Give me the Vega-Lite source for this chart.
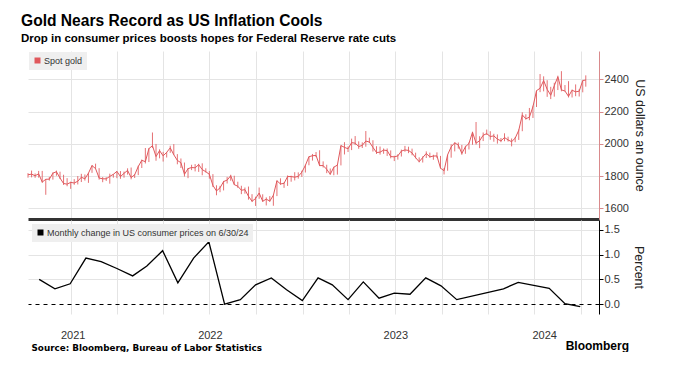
{
  "$schema": "https://vega.github.io/schema/vega-lite/v6.json",
  "padding": {"left": 21, "top": 13, "right": 0, "bottom": 0},
  "title": {
    "text": "Gold Nears Record as US Inflation Cools",
    "subtitle": "Drop in consumer prices boosts hopes for Federal Reserve rate cuts",
    "anchor": "start",
    "dx": -5,
    "font": "Liberation Sans",
    "fontSize": 15.6,
    "fontWeight": "bold",
    "color": "#000000",
    "subtitleFont": "Liberation Sans",
    "subtitleFontSize": 11.5,
    "subtitleFontWeight": "bold",
    "subtitleColor": "#000000",
    "subtitlePadding": 3,
    "offset": 7
  },
  "datasets": {
    "gold": [
      {"d":"2021-07-09","c":1808,"h":1818,"l":1790},
      {"d":"2021-07-16","c":1812,"h":1834,"l":1792},
      {"d":"2021-07-23","c":1802,"h":1816,"l":1789},
      {"d":"2021-07-30","c":1814,"h":1832,"l":1790},
      {"d":"2021-08-06","c":1763,"h":1832,"l":1758},
      {"d":"2021-08-13","c":1780,"h":1782,"l":1684},
      {"d":"2021-08-20","c":1781,"h":1795,"l":1772},
      {"d":"2021-08-27","c":1818,"h":1823,"l":1778},
      {"d":"2021-09-03","c":1827,"h":1834,"l":1802},
      {"d":"2021-09-10","c":1788,"h":1827,"l":1782},
      {"d":"2021-09-17","c":1754,"h":1808,"l":1745},
      {"d":"2021-09-24","c":1750,"h":1787,"l":1737},
      {"d":"2021-10-01","c":1761,"h":1765,"l":1721},
      {"d":"2021-10-08","c":1757,"h":1781,"l":1746},
      {"d":"2021-10-15","c":1768,"h":1800,"l":1748},
      {"d":"2021-10-22","c":1793,"h":1814,"l":1763},
      {"d":"2021-10-29","c":1783,"h":1810,"l":1772},
      {"d":"2021-11-05","c":1818,"h":1819,"l":1758},
      {"d":"2021-11-12","c":1865,"h":1868,"l":1820},
      {"d":"2021-11-19","c":1846,"h":1877,"l":1844},
      {"d":"2021-11-26","c":1788,"h":1849,"l":1778},
      {"d":"2021-12-03","c":1783,"h":1794,"l":1762},
      {"d":"2021-12-10","c":1783,"h":1793,"l":1770},
      {"d":"2021-12-17","c":1798,"h":1815,"l":1753},
      {"d":"2021-12-24","c":1811,"h":1812,"l":1790},
      {"d":"2021-12-31","c":1829,"h":1831,"l":1787},
      {"d":"2022-01-07","c":1797,"h":1831,"l":1783},
      {"d":"2022-01-14","c":1817,"h":1828,"l":1790},
      {"d":"2022-01-21","c":1835,"h":1848,"l":1809},
      {"d":"2022-01-28","c":1791,"h":1853,"l":1780},
      {"d":"2022-02-04","c":1808,"h":1812,"l":1788},
      {"d":"2022-02-11","c":1859,"h":1864,"l":1806},
      {"d":"2022-02-18","c":1898,"h":1902,"l":1850},
      {"d":"2022-02-25","c":1889,"h":1974,"l":1878},
      {"d":"2022-03-04","c":1970,"h":1974,"l":1887},
      {"d":"2022-03-11","c":1988,"h":2070,"l":1974},
      {"d":"2022-03-18","c":1921,"h":1999,"l":1895},
      {"d":"2022-03-25","c":1958,"h":1966,"l":1910},
      {"d":"2022-04-01","c":1925,"h":1950,"l":1890},
      {"d":"2022-04-08","c":1947,"h":1949,"l":1915},
      {"d":"2022-04-15","c":1975,"h":1988,"l":1944},
      {"d":"2022-04-22","c":1932,"h":1998,"l":1931},
      {"d":"2022-04-29","c":1897,"h":1936,"l":1873},
      {"d":"2022-05-06","c":1883,"h":1909,"l":1850},
      {"d":"2022-05-13","c":1811,"h":1884,"l":1797},
      {"d":"2022-05-20","c":1846,"h":1850,"l":1787},
      {"d":"2022-05-27","c":1853,"h":1870,"l":1837},
      {"d":"2022-06-03","c":1851,"h":1874,"l":1829},
      {"d":"2022-06-10","c":1871,"h":1876,"l":1826},
      {"d":"2022-06-17","c":1840,"h":1879,"l":1805},
      {"d":"2022-06-24","c":1827,"h":1848,"l":1822},
      {"d":"2022-07-01","c":1811,"h":1831,"l":1784},
      {"d":"2022-07-08","c":1742,"h":1812,"l":1732},
      {"d":"2022-07-15","c":1708,"h":1743,"l":1681},
      {"d":"2022-07-22","c":1727,"h":1739,"l":1700},
      {"d":"2022-07-29","c":1766,"h":1770,"l":1711},
      {"d":"2022-08-05","c":1775,"h":1795,"l":1754},
      {"d":"2022-08-12","c":1802,"h":1808,"l":1771},
      {"d":"2022-08-19","c":1747,"h":1802,"l":1745},
      {"d":"2022-08-26","c":1737,"h":1765,"l":1727},
      {"d":"2022-09-02","c":1712,"h":1740,"l":1688},
      {"d":"2022-09-09","c":1716,"h":1729,"l":1691},
      {"d":"2022-09-16","c":1675,"h":1735,"l":1654},
      {"d":"2022-09-23","c":1644,"h":1688,"l":1639},
      {"d":"2022-09-30","c":1661,"h":1672,"l":1615},
      {"d":"2022-10-07","c":1695,"h":1729,"l":1659},
      {"d":"2022-10-14","c":1644,"h":1687,"l":1640},
      {"d":"2022-10-21","c":1657,"h":1668,"l":1618},
      {"d":"2022-10-28","c":1645,"h":1676,"l":1640},
      {"d":"2022-11-04","c":1681,"h":1682,"l":1616},
      {"d":"2022-11-11","c":1771,"h":1773,"l":1676},
      {"d":"2022-11-18","c":1751,"h":1786,"l":1746},
      {"d":"2022-11-25","c":1755,"h":1760,"l":1727},
      {"d":"2022-12-02","c":1797,"h":1804,"l":1739},
      {"d":"2022-12-09","c":1797,"h":1802,"l":1765},
      {"d":"2022-12-16","c":1793,"h":1824,"l":1773},
      {"d":"2022-12-23","c":1798,"h":1823,"l":1784},
      {"d":"2022-12-30","c":1824,"h":1833,"l":1795},
      {"d":"2023-01-06","c":1866,"h":1870,"l":1822},
      {"d":"2023-01-13","c":1920,"h":1921,"l":1867},
      {"d":"2023-01-20","c":1926,"h":1937,"l":1896},
      {"d":"2023-01-27","c":1928,"h":1949,"l":1918},
      {"d":"2023-02-03","c":1865,"h":1960,"l":1862},
      {"d":"2023-02-10","c":1865,"h":1891,"l":1853},
      {"d":"2023-02-17","c":1842,"h":1870,"l":1818},
      {"d":"2023-02-24","c":1811,"h":1847,"l":1809},
      {"d":"2023-03-03","c":1855,"h":1858,"l":1805},
      {"d":"2023-03-10","c":1868,"h":1870,"l":1809},
      {"d":"2023-03-17","c":1989,"h":1990,"l":1866},
      {"d":"2023-03-24","c":1978,"h":2010,"l":1934},
      {"d":"2023-03-31","c":1969,"h":1984,"l":1949},
      {"d":"2023-04-07","c":2007,"h":2032,"l":1961},
      {"d":"2023-04-14","c":2004,"h":2048,"l":1992},
      {"d":"2023-04-21","c":1983,"h":2015,"l":1969},
      {"d":"2023-04-28","c":1990,"h":2009,"l":1974},
      {"d":"2023-05-05","c":2017,"h":2079,"l":1982},
      {"d":"2023-05-12","c":2011,"h":2038,"l":2005},
      {"d":"2023-05-19","c":1978,"h":2022,"l":1952},
      {"d":"2023-05-26","c":1946,"h":1985,"l":1937},
      {"d":"2023-06-02","c":1948,"h":1983,"l":1933},
      {"d":"2023-06-09","c":1961,"h":1971,"l":1938},
      {"d":"2023-06-16","c":1958,"h":1971,"l":1925},
      {"d":"2023-06-23","c":1921,"h":1959,"l":1910},
      {"d":"2023-06-30","c":1919,"h":1926,"l":1893},
      {"d":"2023-07-07","c":1925,"h":1935,"l":1902},
      {"d":"2023-07-14","c":1955,"h":1964,"l":1921},
      {"d":"2023-07-21","c":1962,"h":1987,"l":1951},
      {"d":"2023-07-28","c":1959,"h":1982,"l":1942},
      {"d":"2023-08-04","c":1943,"h":1970,"l":1929},
      {"d":"2023-08-11","c":1914,"h":1945,"l":1910},
      {"d":"2023-08-18","c":1889,"h":1916,"l":1885},
      {"d":"2023-08-25","c":1915,"h":1922,"l":1884},
      {"d":"2023-09-01","c":1940,"h":1953,"l":1912},
      {"d":"2023-09-08","c":1919,"h":1945,"l":1914},
      {"d":"2023-09-15","c":1924,"h":1932,"l":1901},
      {"d":"2023-09-22","c":1925,"h":1947,"l":1913},
      {"d":"2023-09-29","c":1849,"h":1925,"l":1846},
      {"d":"2023-10-06","c":1833,"h":1850,"l":1810},
      {"d":"2023-10-13","c":1932,"h":1933,"l":1833},
      {"d":"2023-10-20","c":1981,"h":1997,"l":1914},
      {"d":"2023-10-27","c":2006,"h":2009,"l":1953},
      {"d":"2023-11-03","c":1992,"h":2008,"l":1970},
      {"d":"2023-11-10","c":1940,"h":1993,"l":1932},
      {"d":"2023-11-17","c":1981,"h":1988,"l":1938},
      {"d":"2023-11-24","c":2002,"h":2008,"l":1965},
      {"d":"2023-12-01","c":2072,"h":2075,"l":1994},
      {"d":"2023-12-08","c":2004,"h":2135,"l":1995},
      {"d":"2023-12-15","c":2019,"h":2047,"l":1973},
      {"d":"2023-12-22","c":2053,"h":2070,"l":2017},
      {"d":"2023-12-29","c":2063,"h":2088,"l":2055},
      {"d":"2024-01-05","c":2045,"h":2078,"l":2025},
      {"d":"2024-01-12","c":2049,"h":2062,"l":2013},
      {"d":"2024-01-19","c":2029,"h":2058,"l":2001},
      {"d":"2024-01-26","c":2018,"h":2036,"l":2010},
      {"d":"2024-02-02","c":2039,"h":2065,"l":2016},
      {"d":"2024-02-09","c":2024,"h":2044,"l":2014},
      {"d":"2024-02-16","c":2013,"h":2033,"l":1984},
      {"d":"2024-02-23","c":2035,"h":2041,"l":2010},
      {"d":"2024-03-01","c":2083,"h":2088,"l":2024},
      {"d":"2024-03-08","c":2179,"h":2195,"l":2078},
      {"d":"2024-03-15","c":2155,"h":2183,"l":2150},
      {"d":"2024-03-22","c":2165,"h":2222,"l":2146},
      {"d":"2024-03-29","c":2230,"h":2236,"l":2160},
      {"d":"2024-04-05","c":2329,"h":2330,"l":2228},
      {"d":"2024-04-12","c":2344,"h":2432,"l":2320},
      {"d":"2024-04-19","c":2392,"h":2418,"l":2325},
      {"d":"2024-04-26","c":2337,"h":2394,"l":2291},
      {"d":"2024-05-03","c":2301,"h":2353,"l":2277},
      {"d":"2024-05-10","c":2360,"h":2378,"l":2292},
      {"d":"2024-05-17","c":2415,"h":2422,"l":2333},
      {"d":"2024-05-24","c":2334,"h":2450,"l":2325},
      {"d":"2024-05-31","c":2327,"h":2364,"l":2326},
      {"d":"2024-06-07","c":2294,"h":2388,"l":2287},
      {"d":"2024-06-14","c":2332,"h":2336,"l":2287},
      {"d":"2024-06-21","c":2322,"h":2368,"l":2295},
      {"d":"2024-06-28","c":2326,"h":2338,"l":2293},
      {"d":"2024-07-05","c":2392,"h":2392,"l":2319},
      {"d":"2024-07-11","c":2395,"h":2424,"l":2354}
    ],
    "cpi": [
      {"d":"2021-07-31","v":0.50},
      {"d":"2021-08-31","v":0.31},
      {"d":"2021-09-30","v":0.41},
      {"d":"2021-10-31","v":0.93},
      {"d":"2021-11-30","v":0.86},
      {"d":"2021-12-31","v":0.72},
      {"d":"2022-01-31","v":0.57},
      {"d":"2022-02-28","v":0.77},
      {"d":"2022-03-31","v":1.08},
      {"d":"2022-04-30","v":0.43},
      {"d":"2022-05-31","v":0.93},
      {"d":"2022-06-30","v":1.26},
      {"d":"2022-07-31","v":0.00},
      {"d":"2022-08-31","v":0.09},
      {"d":"2022-09-30","v":0.39},
      {"d":"2022-10-31","v":0.53},
      {"d":"2022-11-30","v":0.29},
      {"d":"2022-12-31","v":0.07},
      {"d":"2023-01-31","v":0.53},
      {"d":"2023-02-28","v":0.39},
      {"d":"2023-03-31","v":0.09},
      {"d":"2023-04-30","v":0.45},
      {"d":"2023-05-31","v":0.12},
      {"d":"2023-06-30","v":0.22},
      {"d":"2023-07-31","v":0.20},
      {"d":"2023-08-31","v":0.53},
      {"d":"2023-09-30","v":0.37},
      {"d":"2023-10-31","v":0.09},
      {"d":"2024-01-31","v":0.31},
      {"d":"2024-02-29","v":0.44},
      {"d":"2024-04-30","v":0.32},
      {"d":"2024-05-31","v":0.01},
      {"d":"2024-06-30","v":-0.05}
    ]
  },
  "spacing": 1,
  "resolve": {"scale": {"color": "independent"}, "legend": {"color": "independent"}},
  "vconcat": [
    {
      "width": 571,
      "height": 168,
      "data": {"name": "gold"},
      "layer": [
        {
          "mark": {"type": "rule", "strokeWidth": 1, "color": "#e0585c", "opacity": 0.85},
          "encoding": {
            "x": {"field": "d", "type": "temporal"},
            "y": {"field": "l", "type": "quantitative"},
            "y2": {"field": "h"}
          }
        },
        {
          "mark": {"type": "line", "strokeWidth": 1},
          "encoding": {
            "x": {
              "field": "d", "type": "temporal",
              "scale": {"type": "utc", "domain": [{"year": 2021, "month": 7, "date": 9, "utc": true}, {"year": 2024, "month": 8, "date": 6, "utc": true}]},
              "axis": {
                "orient": "bottom", "title": null, "labels": false, "ticks": false,
                "domain": true, "domainColor": "#333333", "domainWidth": 3,
                "grid": true, "gridColor": "#e4e4e4", "gridWidth": 1,
                "values": [
                  {"year": 2021, "month": 10, "date": 1, "utc": true},
                  {"year": 2022, "month": 1, "date": 1, "utc": true},
                  {"year": 2022, "month": 4, "date": 1, "utc": true},
                  {"year": 2022, "month": 7, "date": 1, "utc": true},
                  {"year": 2022, "month": 10, "date": 1, "utc": true},
                  {"year": 2023, "month": 1, "date": 1, "utc": true},
                  {"year": 2023, "month": 4, "date": 1, "utc": true},
                  {"year": 2023, "month": 7, "date": 1, "utc": true},
                  {"year": 2023, "month": 10, "date": 1, "utc": true},
                  {"year": 2024, "month": 1, "date": 1, "utc": true},
                  {"year": 2024, "month": 4, "date": 1, "utc": true},
                  {"year": 2024, "month": 7, "date": 1, "utc": true}
                ]
              }
            },
            "y": {
              "field": "c", "type": "quantitative",
              "scale": {"domain": [1534, 2575], "nice": false, "zero": false},
              "axis": {
                "orient": "right", "title": "US dollars an ounce", "titleAngle": 90,
                "titleFont": "Liberation Sans", "titleFontSize": 12.5, "titleFontWeight": "normal",
                "titleColor": "#222222", "titlePadding": 4, "titleBaseline": "bottom",
                "values": [1600, 1800, 2000, 2200, 2400], "format": "d",
                "labelFont": "Liberation Sans", "labelFontSize": 11, "labelColor": "#333333", "labelPadding": 1,
                "labelOverlap": false,
                "domainColor": "#d98a8c", "tickColor": "#d98a8c", "tickSize": 4,
                "grid": true, "gridColor": "#e4e4e4"
              }
            },
            "color": {
              "datum": "Spot gold",
              "scale": {"range": ["#e0585c"]},
              "legend": {
                "title": null, "orient": "top-left", "offset": 1,
                "fillColor": "#efefef", "padding": 4,
                "symbolType": "square", "symbolSize": 36,
                "symbolFillColor": "#e0585c", "symbolStrokeWidth": 0,
                "labelFont": "Liberation Sans", "labelFontSize": 9, "labelColor": "#333333", "labelOffset": 2,
                "labelLimit": 0
              }
            }
          }
        }
      ]
    },
    {
      "width": 571,
      "height": 94,
      "title": {
        "text": "Bloomberg", "orient": "bottom", "anchor": "end", "frame": "group",
        "font": "Liberation Sans", "fontSize": 12, "fontWeight": "bold", "color": "#000000",
        "dx": 30, "offset": -11
      },
      "data": {"name": "cpi"},
      "mark": {"type": "line", "strokeWidth": 1.3},
      "encoding": {
        "x": {
          "field": "d", "type": "temporal",
          "scale": {"type": "utc", "domain": [{"year": 2021, "month": 7, "date": 9, "utc": true}, {"year": 2024, "month": 8, "date": 6, "utc": true}]},
          "axis": {
            "orient": "bottom",
            "title": "Source: Bloomberg, Bureau of Labor Statistics",
            "titleAnchor": "start", "titleAlign": "left", "titleX": 3,
            "titleFont": "DejaVu Sans", "titleFontSize": 8.8, "titleFontWeight": "bold", "titleColor": "#000000",
            "titlePadding": 3,
            "ticks": false, "domain": false,
            "labelExpr": "utcdate(datum.value) == 1 ? '' : utcFormat(datum.value, '%Y')",
            "labelFont": "Liberation Sans", "labelFontSize": 11, "labelColor": "#333333",
            "labelPadding": 15, "labelFlush": false, "labelOverlap": false,
            "grid": true, "gridColor": "#e4e4e4",
            "gridOpacity": {"condition": {"test": "utcdate(datum.value) == 1", "value": 1}, "value": 0},
            "values": [
              {"year": 2021, "month": 10, "date": 1, "utc": true},
              {"year": 2021, "month": 10, "date": 5, "utc": true},
              {"year": 2022, "month": 1, "date": 1, "utc": true},
              {"year": 2022, "month": 4, "date": 1, "utc": true},
              {"year": 2022, "month": 7, "date": 1, "utc": true},
              {"year": 2022, "month": 7, "date": 2, "utc": true},
              {"year": 2022, "month": 10, "date": 1, "utc": true},
              {"year": 2023, "month": 1, "date": 1, "utc": true},
              {"year": 2023, "month": 4, "date": 1, "utc": true},
              {"year": 2023, "month": 7, "date": 1, "utc": true},
              {"year": 2023, "month": 7, "date": 2, "utc": true},
              {"year": 2023, "month": 10, "date": 1, "utc": true},
              {"year": 2024, "month": 1, "date": 1, "utc": true},
              {"year": 2024, "month": 4, "date": 1, "utc": true},
              {"year": 2024, "month": 4, "date": 20, "utc": true},
              {"year": 2024, "month": 7, "date": 1, "utc": true}
            ]
          }
        },
        "y": {
          "field": "v", "type": "quantitative",
          "scale": {"domain": [-0.2, 1.7], "nice": false, "zero": false},
          "axis": {
            "orient": "right", "title": "Percent", "titleAngle": 90,
            "titleFont": "Liberation Sans", "titleFontSize": 12.5, "titleFontWeight": "normal",
            "titleColor": "#222222", "titlePadding": 12, "titleBaseline": "bottom",
            "values": [0, 0.5, 1, 1.5], "format": ".1f",
            "labelFont": "Liberation Sans", "labelFontSize": 11, "labelColor": "#333333", "labelPadding": 1,
            "labelOverlap": false, "labelFlush": false,
            "domainColor": "#000000", "tickColor": "#000000", "tickSize": 4,
            "grid": true,
            "gridColor": {"condition": {"test": "datum.value == 0", "value": "#000000"}, "value": "#e4e4e4"},
            "gridDash": {"condition": {"test": "datum.value == 0", "value": [4, 4]}, "value": []}
          }
        },
        "color": {
          "datum": "Monthly change in US consumer prices on 6/30/24",
          "scale": {"range": ["#000000"]},
          "legend": {
            "title": null, "orient": "top-left", "offset": 4,
            "fillColor": "#efefef", "padding": 4,
            "symbolType": "square", "symbolSize": 36,
            "symbolFillColor": "#000000", "symbolStrokeWidth": 0,
            "labelFont": "Liberation Sans", "labelFontSize": 9, "labelColor": "#333333", "labelOffset": 2,
            "labelLimit": 0
          }
        }
      }
    }
  ],
  "config": {
    "view": {"stroke": null},
    "font": "Liberation Sans"
  }
}
